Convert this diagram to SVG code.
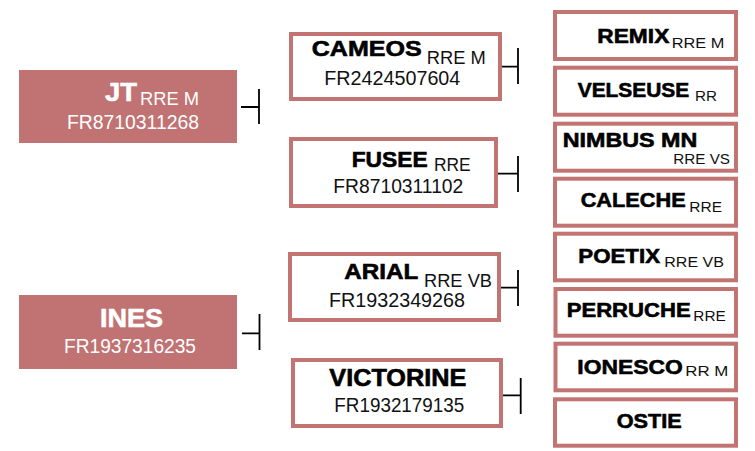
<svg xmlns="http://www.w3.org/2000/svg" width="755" height="451" viewBox="0 0 755 451">
<style>
  text { font-family: "Liberation Sans", Arial, sans-serif; }
  .root { fill: #c07372; }
  .box { fill: #ffffff; stroke: #c27473; stroke-width: 4; }
  .nb { font-weight: bold; fill: #000; stroke: #000; stroke-width: 0.6; }
  .nw { font-weight: bold; fill: #fff; stroke: #fff; stroke-width: 0.6; }
  .sub { fill: #111; }
  .subw { fill: #fff; }
  .code { fill: #111; font-size: 19.5px; }
  .codew { fill: #fff; font-size: 19.5px; }
  .conn path { stroke: #000; stroke-width: 1.8; fill: none; }
</style>

<g id="node-jt">
  <rect class="root" x="19" y="70" width="218" height="73"/>
  <text class="nw" x="105" y="101" font-size="26.5" textLength="32" lengthAdjust="spacingAndGlyphs">JT</text>
  <text class="subw" x="140" y="105" font-size="19" textLength="59" lengthAdjust="spacingAndGlyphs">RRE M</text>
  <text class="codew" x="67" y="129" textLength="132" lengthAdjust="spacingAndGlyphs">FR8710311268</text>
</g>

<g id="node-ines">
  <rect class="root" x="19" y="295" width="218" height="74"/>
  <text class="nw" x="100" y="326.7" font-size="26.5" textLength="63" lengthAdjust="spacingAndGlyphs">INES</text>
  <text class="codew" x="64" y="352.7" textLength="132" lengthAdjust="spacingAndGlyphs">FR1937316235</text>
</g>

<g id="node-cameos">
  <rect class="box" x="291" y="34" width="209" height="65"/>
  <text class="nb" x="311.7" y="56" font-size="22.5" textLength="110" lengthAdjust="spacingAndGlyphs">CAMEOS</text>
  <text class="sub" x="426.7" y="64" font-size="18" textLength="59" lengthAdjust="spacingAndGlyphs">RRE M</text>
  <text class="code" x="324.3" y="85" textLength="136" lengthAdjust="spacingAndGlyphs">FR2424507604</text>
</g>

<g id="node-fusee">
  <rect class="box" x="291" y="139" width="205" height="67"/>
  <text class="nb" x="351.7" y="166.7" font-size="22.5" textLength="76" lengthAdjust="spacingAndGlyphs">FUSEE</text>
  <text class="sub" x="434" y="171" font-size="18" textLength="36.7" lengthAdjust="spacingAndGlyphs">RRE</text>
  <text class="code" x="333.3" y="192.7" textLength="130" lengthAdjust="spacingAndGlyphs">FR8710311102</text>
</g>

<g id="node-arial">
  <rect class="box" x="290" y="254" width="209" height="66"/>
  <text class="nb" x="344.3" y="279" font-size="22.5" textLength="74" lengthAdjust="spacingAndGlyphs">ARIAL</text>
  <text class="sub" x="424" y="286.7" font-size="18" textLength="68" lengthAdjust="spacingAndGlyphs">RRE VB</text>
  <text class="code" x="329" y="306.7" textLength="136" lengthAdjust="spacingAndGlyphs">FR1932349268</text>
</g>

<g id="node-victorine">
  <rect class="box" x="293" y="360" width="208" height="66"/>
  <text class="nb" x="329.3" y="385.7" font-size="23.5" textLength="137" lengthAdjust="spacingAndGlyphs">VICTORINE</text>
  <text class="code" x="334.3" y="411.7" textLength="130" lengthAdjust="spacingAndGlyphs">FR1932179135</text>
</g>

<g id="node-remix">
  <rect class="box" x="555" y="12" width="181" height="47"/>
  <text class="nb" x="597.3" y="43.3" font-size="21" textLength="72" lengthAdjust="spacingAndGlyphs">REMIX</text>
  <text class="sub" x="671.7" y="47.7" font-size="15.5" textLength="52.6" lengthAdjust="spacingAndGlyphs">RRE M</text>
</g>

<g id="node-velseuse">
  <rect class="box" x="555" y="67.7" width="181" height="47"/>
  <text class="nb" x="577.7" y="96.7" font-size="21" textLength="111.6" lengthAdjust="spacingAndGlyphs">VELSEUSE</text>
  <text class="sub" x="695" y="100.7" font-size="15.5" textLength="22" lengthAdjust="spacingAndGlyphs">RR</text>
</g>

<g id="node-nimbus">
  <rect class="box" x="555" y="123.7" width="181" height="47"/>
  <text class="nb" x="562.7" y="147.3" font-size="21" textLength="134.6" lengthAdjust="spacingAndGlyphs">NIMBUS MN</text>
  <text class="sub" x="673.3" y="163.7" font-size="15.5" textLength="56.7" lengthAdjust="spacingAndGlyphs">RRE VS</text>
</g>

<g id="node-caleche">
  <rect class="box" x="555" y="178.7" width="181" height="47"/>
  <text class="nb" x="580.7" y="207.3" font-size="21" textLength="105" lengthAdjust="spacingAndGlyphs">CALECHE</text>
  <text class="sub" x="689.3" y="211.7" font-size="15.5" textLength="32.7" lengthAdjust="spacingAndGlyphs">RRE</text>
</g>

<g id="node-poetix">
  <rect class="box" x="555" y="233.7" width="181" height="46.6"/>
  <text class="nb" x="578.3" y="263.3" font-size="21" textLength="81.7" lengthAdjust="spacingAndGlyphs">POETIX</text>
  <text class="sub" x="664.3" y="267" font-size="15.5" textLength="59.7" lengthAdjust="spacingAndGlyphs">RRE VB</text>
</g>

<g id="node-perruche">
  <rect class="box" x="555.5" y="289" width="180.5" height="46.7"/>
  <text class="nb" x="566.7" y="317" font-size="21" textLength="124" lengthAdjust="spacingAndGlyphs">PERRUCHE</text>
  <text class="sub" x="693.3" y="320.7" font-size="15.5" textLength="32.4" lengthAdjust="spacingAndGlyphs">RRE</text>
</g>

<g id="node-ionesco">
  <rect class="box" x="555.5" y="343.7" width="180.5" height="46.6"/>
  <text class="nb" x="577.3" y="373.7" font-size="21" textLength="105.4" lengthAdjust="spacingAndGlyphs">IONESCO</text>
  <text class="sub" x="685.3" y="376" font-size="15.5" textLength="43" lengthAdjust="spacingAndGlyphs">RR M</text>
</g>

<g id="node-ostie">
  <rect class="box" x="555" y="399.3" width="181" height="46.4"/>
  <text class="nb" x="616.7" y="428.3" font-size="21" textLength="65" lengthAdjust="spacingAndGlyphs">OSTIE</text>
</g>

<g id="connectors" class="conn">
  <path d="M241 107 H259 M259 89 V124"/>
  <path d="M242 333.3 H259.5 M259.5 314 V350"/>
  <path d="M502 66.7 H518 M518 48 V84"/>
  <path d="M498 173.7 H518 M518 156 V192"/>
  <path d="M501 287.7 H518 M518 270 V306"/>
  <path d="M503 395.3 H520.7 M520.7 378 V414"/>
</g>
</svg>
